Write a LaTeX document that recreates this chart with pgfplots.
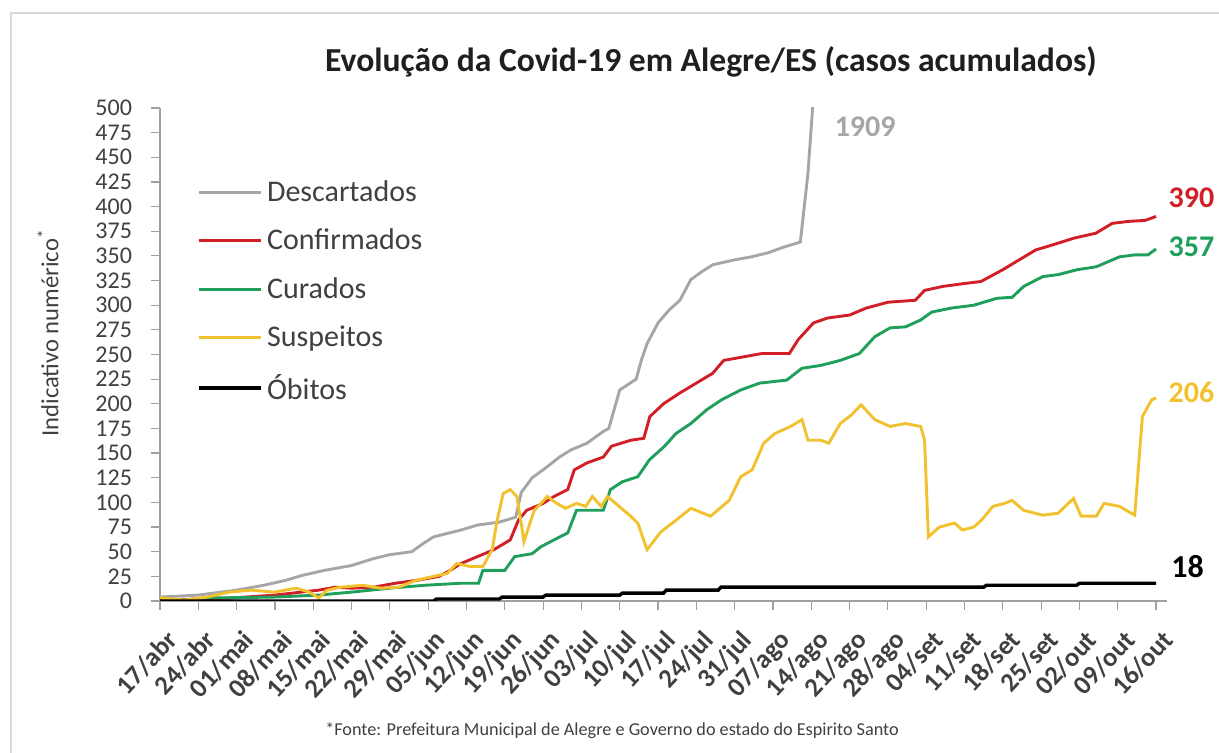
\documentclass[border=0pt]{standalone}
\usepackage{pgfplots}
\pgfplotsset{compat=1.18}
\usepackage{fontspec}
\setmainfont{Carlito}
\definecolor{cgray}{HTML}{A6A6A6}
\definecolor{cred}{HTML}{D01F26}
\definecolor{cgreen}{HTML}{1F9E5C}
\definecolor{cyellow}{HTML}{F2C12E}
\definecolor{ctext}{HTML}{404040}
\definecolor{caxis}{HTML}{A0A0A0}
\begin{document}
\begin{tikzpicture}
\useasboundingbox (0pt,0pt) rectangle (609.5pt,376.5pt);
\draw[color=black!15, line width=0.8pt] (5.5pt,0pt) -- (5.5pt,370pt) -- (609.5pt,370pt);
\node[font=\bfseries\fontsize{16.8}{16.8}\selectfont, text=black!88, anchor=center] at (355.5pt,345.5pt) {Evolução da Covid-19 em Alegre/ES (casos acumulados)};
\node[font=\fontsize{12.3}{12.3}\selectfont, text=ctext, rotate=90, anchor=center] at (24pt,210pt) {Indicativo numérico\textsuperscript{*}};
\node[font=\fontsize{9.1}{9.1}\selectfont, text=ctext, anchor=center] at (306pt,11pt) {*Fonte: Prefeitura Municipal de Alegre e Governo do estado do Espirito Santo};
\begin{axis}[
  at={(80pt,76pt)}, anchor=south west, scale only axis,
  width=503.5pt, height=246.5pt,
  xmin=0, xmax=184, ymin=0, ymax=500,
  axis x line=bottom, axis y line=left,
  axis line style={-, caxis, line width=0.6pt},
  tick style={caxis, line width=0.6pt},
  tick align=outside, major tick length=4.5pt,
  xtick={0,7,...,182},
  xticklabels={17/abr,24/abr,01/mai,08/mai,15/mai,22/mai,29/mai,05/jun,12/jun,19/jun,26/jun,03/jul,10/jul,17/jul,24/jul,31/jul,07/ago,14/ago,21/ago,28/ago,04/set,11/set,18/set,25/set,02/out,09/out,16/out},
  x tick label style={rotate=47, anchor=north east, font=\bfseries\fontsize{13.3}{13.3}\selectfont, text=ctext, inner sep=1pt, yshift=-7pt, xshift=-4pt},
  ytick={0,25,...,500},
  y tick label style={font=\fontsize{12}{12}\selectfont, text=ctext, xshift=-6pt},
  /pgf/number format/assume math mode=true,
  clip mode=individual,
  legend style={at={(0.037,0.862)}, anchor=north west, draw=none, fill=none,
    font=\fontsize{15}{15}\selectfont, text=ctext, row sep=8.3pt, inner sep=0pt,
    /tikz/every even column/.append style={column sep=2pt}},
  legend cell align=left,
  legend image code/.code={\draw[#1] (0pt,0pt) -- (31pt,0pt);},
]
\addplot[cgray, line width=1.45pt] coordinates {
(0,4) (7,6) (14,11) (19,16) (23,21) (26,26) (30,31) (35,36) (39,43) (42,47) (46,50) (48,58) (50,65) (55,72) (58,77) (62,80) (65,85) (66,110) (68,125) (70,133) (73,146) (75,153) (78,160) (81,172) (82,175) (84,214) (87,225) (88,245) (89,261) (91,282) (93,295) (95,305) (97,326) (99,334) (101,341) (105,346) (108,349) (111,353) (114,359) (117,364) (118.4,434) (119.5,520) (182,1909)};
\addlegendentry{Descartados}
\addplot[cred, line width=1.45pt] coordinates {
(0,1) (7,2) (13,3) (21,6) (29,11) (32,14) (35,13) (39,14) (43,18) (47,21) (51,25) (53,31) (55,38) (58,45) (61,52) (64,62) (65.5,82) (67,92) (70,99) (72,106) (74.5,113) (75.7,133) (78,140) (81,146) (82.5,157) (86,163) (88.4,165) (89.5,187) (92,200) (95,211) (98,221) (101,231) (103,244) (107,248) (110,251) (115,251) (116.6,265) (119.4,282) (122,287) (126,290) (129,297) (133,303) (138,305) (139.7,315) (143,319) (147,322) (150,324) (154,336) (157,346) (160,356) (163,361) (167,368) (171,373) (174,383) (177,385) (180,386) (182,390)};
\addlegendentry{Confirmados}
\addplot[cgreen, line width=1.45pt] coordinates {
(0,0) (4.5,1) (8.6,3) (21,4) (29,6) (35,9) (42,13) (48.5,16) (55,18) (58.2,18) (59,31) (63,31) (64.8,45) (68,48) (69.6,55) (72,62) (74.5,69) (76.1,92) (81,92) (82.3,113) (84.5,121) (87.3,126) (89.4,143) (92.2,157) (94.3,170) (97,180) (99.9,194) (102.6,204) (106.1,214) (109.6,221) (114.5,224) (117.3,236) (120.8,239) (124.3,244) (127.8,251) (130.6,268) (133.4,277) (136.2,278) (139,285) (141,293) (144.5,297) (148.7,300) (152.9,307) (155.7,308) (157.8,319) (161.3,329) (164.1,331) (167.6,336) (171.1,339) (175.3,349) (178.1,351) (180.5,351) (182,357)};
\addlegendentry{Curados}
\addplot[cyellow, line width=1.45pt] coordinates {
(0,3) (4.5,1) (8.6,4) (12.6,9) (16.7,11) (20.8,9) (24.9,13) (27.3,9) (29,3) (30.5,11) (33,14) (37,16) (40.3,13) (43.6,14) (46.8,21) (50,25) (52.5,28) (54.2,38) (56.6,35) (59,35) (60.7,52) (61.5,79) (62.7,109) (64,113) (65.2,106) (66,79) (66.5,60) (67.6,79) (68.4,92) (69.6,99) (70.8,106) (72.5,99) (74.1,94) (76.1,99) (77.8,96) (79,106) (80.6,96) (81.8,106) (84.3,94) (86,86) (87.3,79) (89,52) (91.5,70) (94.3,82) (97,94) (100.6,86) (104,102) (106.1,126) (108.2,133) (110.3,160) (112.4,170) (115.2,177) (117.3,184) (118.4,163) (120.8,163) (122.2,160) (124.3,180) (126.4,189) (128.1,199) (130.6,184) (133.4,177) (136.2,180) (139,177) (139.7,163) (140.4,65) (142.4,75) (145.2,79) (146.6,72) (148.7,75) (150.1,82) (152.2,96) (154.3,99) (155.7,102) (157.8,92) (161.3,87) (164.1,89) (166.9,104) (168.3,86) (171.1,86) (172.5,99) (175.3,96) (178.1,87) (179.5,187) (181.2,204) (182,206)};
\addlegendentry{Suspeitos}
\addplot[black, line width=1.7pt] coordinates {
(0,0) (50,0) (50.5,2) (62,2) (62.5,4) (70,4) (70.5,6) (84,6) (84.5,8) (92,8) (92.5,11) (102,11) (102.5,14) (150.5,14) (151,16) (167.5,16) (168,18) (182,18)};
\addlegendentry{Óbitos}
\node[anchor=west, font=\bfseries\fontsize{15}{15}\selectfont, text=cgray] at (axis cs:122,481) {1909};
\node[anchor=west, font=\bfseries\fontsize{15}{15}\selectfont, text=cred] at (axis cs:183,409) {390};
\node[anchor=west, font=\bfseries\fontsize{15}{15}\selectfont, text=cgreen] at (axis cs:183,359) {357};
\node[anchor=west, font=\bfseries\fontsize{15}{15}\selectfont, text=cyellow] at (axis cs:183,212) {206};
\node[anchor=west, font=\bfseries\fontsize{16}{16}\selectfont, text=black] at (axis cs:183.5,34.5) {18};
\end{axis}
\end{tikzpicture}
\end{document}
